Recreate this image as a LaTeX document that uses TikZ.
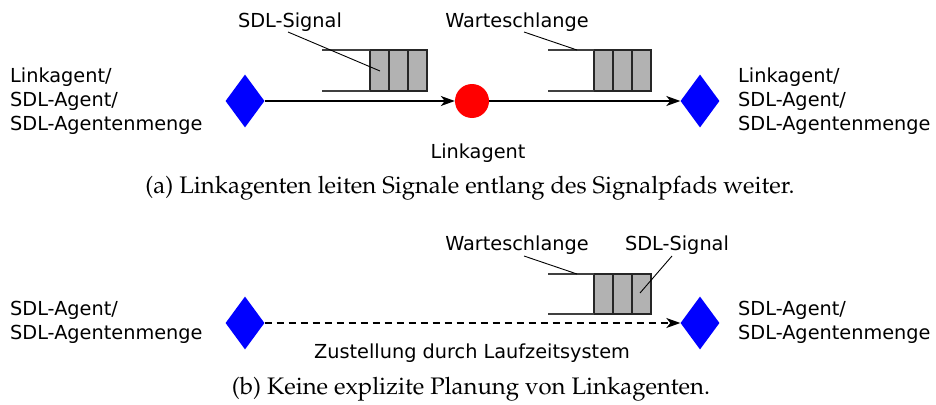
\documentclass[tikz,border=0pt]{standalone}
\usepackage[T1]{fontenc}
\usepackage{fontspec}
\setsansfont{DejaVu Sans}
\usetikzlibrary{shapes.geometric,arrows.meta}
\newcommand{\capfont}{\fontencoding{T1}\fontfamily{ppl}\selectfont}
\tikzset{
  agent/.style={diamond,fill=blue,draw=none,inner sep=0pt,minimum width=39pt,minimum height=53pt},
  link/.style={circle,fill=red,draw=none,inner sep=0pt,minimum size=34pt},
  lbl/.style={font=\sffamily\fontsize{19.3}{24}\selectfont,inner sep=0pt},
  blocklbl/.style={lbl,align=left,anchor=west},
  cell/.style={fill=black!30,draw=black!85,line width=1.4pt,outer sep=0pt,inner sep=0pt,
    minimum width=19pt,anchor=north west},
  rail/.style={draw=black!75,line width=1.3pt},
  leader/.style={line width=0.9pt},
  flow/.style={line width=1.2pt,-{Stealth[length=14pt,width=10pt,inset=4pt]}},
  captext/.style={font=\capfont\fontsize{23.9}{28}\selectfont,inner sep=0pt}
}
\begin{document}
\begin{tikzpicture}[x=1pt,y=-1pt]
\useasboundingbox (0,0) rectangle (936,404);

% ---------- (a) ----------
\node[agent] (la) at (245,101) {};
\node[link]  (lk) at (472,101) {};
\node[agent] (ra) at (700,101) {};
\draw[flow] (la.east) -- (lk.west);
\draw[flow] (lk.east) -- (ra.west);

\node[blocklbl] (ltxt) at (10,101) {Linkagent/\\SDL-Agent/\\SDL-Agentenmenge};
\node[blocklbl] (rtxt) at (738,101) {Linkagent/\\SDL-Agent/\\SDL-Agentenmenge};
\node[lbl] (lktxt) at (478,153) {Linkagent};

% queue before the link agent
\coordinate (q1a) at (322,50);
\coordinate (q1b) at (322,91);
\node[cell,minimum height=41pt] (q1c1) at (370,50) {};
\node[cell,minimum height=41pt] (q1c2) at (389,50) {};
\node[cell,minimum height=41pt] (q1c3) at (408,50) {};
\draw[rail] (q1a) -- (q1a -| q1c1.west);
\draw[rail] (q1b) -- (q1b -| q1c1.west);

% queue after the link agent
\coordinate (q2a) at (548,50);
\coordinate (q2b) at (548,91);
\node[cell,minimum height=41pt] (q2c1) at (594,50) {};
\node[cell,minimum height=41pt] (q2c2) at (613,50) {};
\node[cell,minimum height=41pt] (q2c3) at (632,50) {};
\draw[rail] (q2a) -- (q2a -| q2c1.west);
\draw[rail] (q2b) -- (q2b -| q2c1.west);

\node[lbl] (sig1) at (290,22) {SDL-Signal};
\node[lbl] (ws1) at (517,22) {Warteschlange};
\coordinate (sig1p) at (380,71);
\coordinate (ws1p) at (577,50);
\draw[leader] (288,32) -- (sig1p);
\draw[leader] (524,32) -- (ws1p);

\node[captext] (capa) at (470,188) {(a) Linkagenten leiten Signale entlang des Signalpfads weiter.};

% ---------- (b) ----------
\node[agent] (lb) at (245,323) {};
\node[agent] (rb) at (700,323) {};
\draw[flow,dashed,dash pattern=on 7pt off 5pt] (lb.east) -- (rb.west);

\node[blocklbl] (lbtxt) at (10,322) {SDL-Agent/\\SDL-Agentenmenge};
\node[blocklbl] (rbtxt) at (738,322) {SDL-Agent/\\SDL-Agentenmenge};
\node[lbl] (rts) at (472,353) {Zustellung durch Laufzeitsystem};

\coordinate (q3a) at (548,274);
\coordinate (q3b) at (548,314);
\node[cell,minimum height=40pt] (q3c1) at (594,274) {};
\node[cell,minimum height=40pt] (q3c2) at (613,274) {};
\node[cell,minimum height=40pt] (q3c3) at (632,274) {};
\draw[rail] (q3a) -- (q3a -| q3c1.west);
\draw[rail] (q3b) -- (q3b -| q3c1.west);

\node[lbl] (ws2) at (517,245) {Warteschlange};
\node[lbl] (sig2) at (677,245) {SDL-Signal};
\coordinate (ws2p) at (577,274);
\coordinate (sig2p) at (640,293);
\draw[leader] (524,256) -- (ws2p);
\draw[leader] (672,256) -- (sig2p);

\node[captext] (capb) at (471,389) {(b) Keine explizite Planung von Linkagenten.};
\end{tikzpicture}
\end{document}
